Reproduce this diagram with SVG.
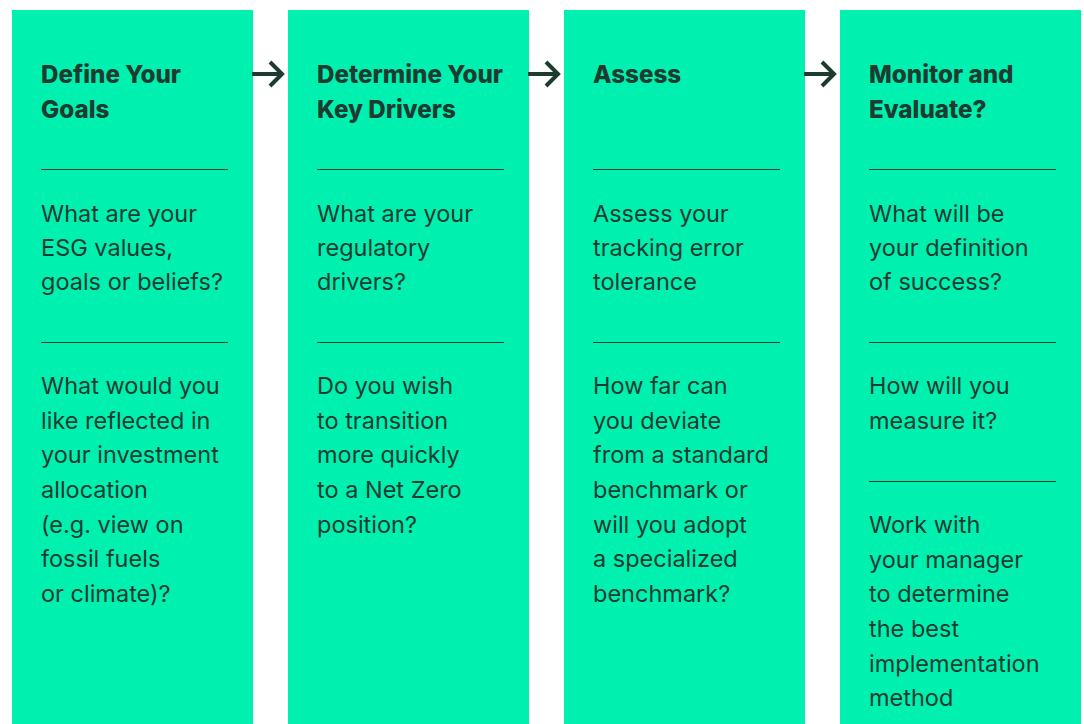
<svg xmlns="http://www.w3.org/2000/svg" width="1084" height="724" viewBox="0 0 1084 724">
  <style>
    .panel { fill: #00f0b0; }
    .head { font-family: Inter, "Liberation Sans", sans-serif; font-weight: 800; font-size: 24.2px; fill: #1e3b30; }
    .body { font-family: Inter, "Liberation Sans", sans-serif; font-size: 23.5px; fill: #1e3b30; }
    .rule { stroke: #1e3b30; stroke-width: 1.2; }
    .arrow { fill: none; stroke: #1e3b30; stroke-width: 4; stroke-linecap: butt; stroke-linejoin: miter; }
  </style>
  <rect width="1084" height="724" fill="#ffffff"/>

  <g id="step-goals">
    <rect class="panel" x="12" y="10" width="241" height="714"/>
    <text class="head" x="41" y="82.5">Define Your</text>
    <text class="head" x="41" y="117.5">Goals</text>
    <line class="rule" x1="41" y1="169.5" x2="228" y2="169.5"/>
    <text class="body" x="41" y="222">What are your</text>
    <text class="body" x="41" y="256">ESG values,</text>
    <text class="body" x="41" y="290">goals or beliefs?</text>
    <line class="rule" x1="41" y1="342.5" x2="228" y2="342.5"/>
    <text class="body" x="41" y="394">What would you</text>
    <text class="body" x="41" y="429">like reflected in</text>
    <text class="body" x="41" y="463">your investment</text>
    <text class="body" x="41" y="498">allocation</text>
    <text class="body" x="41" y="533">(e.g. view on</text>
    <text class="body" x="41" y="567">fossil fuels</text>
    <text class="body" x="41" y="602">or climate)?</text>
  </g>

  <g id="step-drivers">
    <rect class="panel" x="288" y="10" width="241" height="714"/>
    <text class="head" x="317" y="82.5">Determine Your</text>
    <text class="head" x="317" y="117.5">Key Drivers</text>
    <line class="rule" x1="317" y1="169.5" x2="504" y2="169.5"/>
    <text class="body" x="317" y="222">What are your</text>
    <text class="body" x="317" y="256">regulatory</text>
    <text class="body" x="317" y="290">drivers?</text>
    <line class="rule" x1="317" y1="342.5" x2="504" y2="342.5"/>
    <text class="body" x="317" y="394">Do you wish</text>
    <text class="body" x="317" y="429">to transition</text>
    <text class="body" x="317" y="463">more quickly</text>
    <text class="body" x="317" y="498">to a Net Zero</text>
    <text class="body" x="317" y="533">position?</text>
  </g>

  <g id="step-assess">
    <rect class="panel" x="564" y="10" width="241" height="714"/>
    <text class="head" x="593" y="82.5">Assess</text>
    <line class="rule" x1="593" y1="169.5" x2="780" y2="169.5"/>
    <text class="body" x="593" y="222">Assess your</text>
    <text class="body" x="593" y="256">tracking error</text>
    <text class="body" x="593" y="290">tolerance</text>
    <line class="rule" x1="593" y1="342.5" x2="780" y2="342.5"/>
    <text class="body" x="593" y="394">How far can</text>
    <text class="body" x="593" y="429">you deviate</text>
    <text class="body" x="593" y="463">from a standard</text>
    <text class="body" x="593" y="498">benchmark or</text>
    <text class="body" x="593" y="533">will you adopt</text>
    <text class="body" x="593" y="567">a specialized</text>
    <text class="body" x="593" y="602">benchmark?</text>
  </g>

  <g id="step-monitor">
    <rect class="panel" x="840" y="10" width="241" height="714"/>
    <text class="head" x="869" y="82.5">Monitor and</text>
    <text class="head" x="869" y="117.5">Evaluate?</text>
    <line class="rule" x1="869" y1="169.5" x2="1056" y2="169.5"/>
    <text class="body" x="869" y="222">What will be</text>
    <text class="body" x="869" y="256">your definition</text>
    <text class="body" x="869" y="290">of success?</text>
    <line class="rule" x1="869" y1="342.5" x2="1056" y2="342.5"/>
    <text class="body" x="869" y="394">How will you</text>
    <text class="body" x="869" y="429">measure it?</text>
    <line class="rule" x1="869" y1="481.5" x2="1056" y2="481.5"/>
    <text class="body" x="869" y="533">Work with</text>
    <text class="body" x="869" y="568">your manager</text>
    <text class="body" x="869" y="602">to determine</text>
    <text class="body" x="869" y="637">the best</text>
    <text class="body" x="869" y="672">implementation</text>
    <text class="body" x="869" y="706">method</text>
  </g>

  <g id="connectors">
    <path class="arrow" d="M252 74 H281 M270 62 L282 74 L270 86"/>
    <path class="arrow" d="M528 74 H557 M546 62 L558 74 L546 86"/>
    <path class="arrow" d="M804 74 H833 M822 62 L834 74 L822 86"/>
  </g>
</svg>
